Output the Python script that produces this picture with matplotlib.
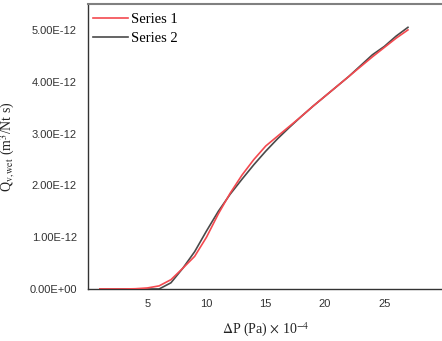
import matplotlib
matplotlib.use("Agg")
import matplotlib.pyplot as plt
from matplotlib.ticker import FuncFormatter

x_vals = list(range(1, 28))
series1 = [0.0, 0.0, 0.0, 0.005, 0.02, 0.06, 0.18, 0.40, 0.63, 1.00, 1.45, 1.85, 2.20,
           2.50, 2.76, 2.95, 3.14, 3.33, 3.53, 3.72, 3.91, 4.10, 4.29, 4.48, 4.66, 4.84, 5.00]
series2 = [0.0, 0.0, 0.0, 0.0, 0.0, 0.0, 0.12, 0.40, 0.72, 1.12, 1.50, 1.83, 2.12,
           2.40, 2.66, 2.90, 3.12, 3.33, 3.53, 3.72, 3.91, 4.10, 4.31, 4.52, 4.68, 4.88, 5.05]
scale = 1e-12
labels = ["Series 1", "Series 2"]
colors = ["#F4494F", "#4A4A4A"]

plt.rcParams['mathtext.fontset'] = 'stix'

W, H = 442, 341
fig = plt.figure(figsize=(W / 100, H / 100), dpi=100)
left, right, top, bottom = 88, 443.5, 4, 289
ax = fig.add_axes([left / W, 1 - bottom / H, (right - left) / W, (bottom - top) / H])

ax.plot(x_vals, [v * scale for v in series1], color=colors[0], lw=1.2, label=labels[0], zorder=3)
ax.plot(x_vals, [v * scale for v in series2], color=colors[1], lw=1.2, label=labels[1], zorder=2)

ax.set_xlim(0, 30)
ax.set_ylim(0, 5.5e-12)
ax.set_xticks([5, 10, 15, 20, 25])
ax.set_yticks([0, 1e-12, 2e-12, 3e-12, 4e-12, 5e-12])

def fmt(v, pos):
    if v == 0:
        return "0.00E+00"
    s = f"{v:.2E}"
    m, e = s.split("E")
    return f"{m}E{int(e)}"

ax.yaxis.set_major_formatter(FuncFormatter(fmt))
ax.tick_params(axis='both', length=0, labelsize=8, colors='#333333')
ax.tick_params(axis='y', pad=8)
ax.tick_params(axis='x', pad=7)
for lab in ax.get_xticklabels() + ax.get_yticklabels():
    lab.set_fontfamily('Liberation Sans')

for sp in ['left', 'bottom']:
    ax.spines[sp].set_color('#333333')
    ax.spines[sp].set_linewidth(1.0)
ax.spines['top'].set_color('#808080')
ax.spines['top'].set_linewidth(1.5)
ax.spines['right'].set_visible(False)

ax.set_xlabel(r'$\Delta$P (Pa) $\times$ 10$^{-4}$', fontfamily='Liberation Serif',
              fontsize=10, labelpad=9, color='#222222')
ax.set_ylabel(r'Q$_{\mathrm{v,wet}}$ (m$^3$/Nt s)', fontfamily='Liberation Serif',
              fontsize=10, labelpad=9, color='#222222')

leg = ax.legend(loc='upper left', bbox_to_anchor=(-0.011, 1.0), frameon=False,
                prop={'family': 'Liberation Serif', 'size': 10.5},
                handlelength=2.4, handletextpad=0.25, labelspacing=0.42,
                borderaxespad=0.5, borderpad=0.1)

fig.savefig("out.png", dpi=100)
